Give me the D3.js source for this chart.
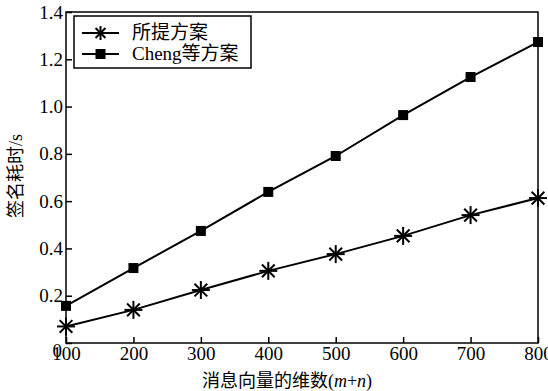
<!DOCTYPE html>
<html>
<head>
<meta charset="utf-8">
<script src="https://cdn.jsdelivr.net/npm/d3@7"></script>
<style>
  body { margin: 0; background: #fff; }
  text { font-family: "Liberation Serif", "Noto Sans CJK SC", serif; fill: #000; }
</style>
</head>
<body>
<div id="chart"></div>
<script>
// data
var dims = [100, 200, 300, 400, 500, 600, 700, 800];
var proposed = [0.07, 0.14, 0.224, 0.305, 0.376, 0.453, 0.541, 0.613];
var cheng = [0.157, 0.317, 0.474, 0.639, 0.791, 0.964, 1.125, 1.273];
var yTicks = [0, 0.2, 0.4, 0.6, 0.8, 1.0, 1.2, 1.4];
var seriesNames = ["所提方案", "Cheng等方案"];

// set the dimensions and margins of the graph
var margin = {top: 12, right: 10, bottom: 48, left: 66},
  width = 548 - margin.left - margin.right,
  height = 391 - margin.top - margin.bottom;

var x = d3.scaleLinear().domain([100, 800]).range([0, width]);
var y = d3.scaleLinear().domain([0, 1.4]).range([height, 0]);

var svg = d3.select("#chart").append("svg")
  .attr("width", 548)
  .attr("height", 391)
  .append("g")
  .attr("transform", "translate(" + margin.left + "," + margin.top + ")");

// frame
svg.append("rect")
  .attr("width", width).attr("height", height)
  .attr("fill", "none").attr("stroke", "#000").attr("stroke-width", 1.5);

// Y axis, ticks pointing inwards
var yAxis = svg.append("g")
  .call(d3.axisLeft(y).tickValues(yTicks).tickSizeInner(-6).tickSizeOuter(0)
    .tickPadding(4)
    .tickFormat(function(d) { return d === 0 ? "0" : d3.format(".1f")(d); }));
yAxis.select(".domain").remove();
yAxis.selectAll("line").attr("stroke-width", 1.5);
yAxis.selectAll("text").style("font-size", "19px").attr("x", -3);
yAxis.selectAll(".tick").filter(function(d) { return d === 0; })
  .select("text").attr("dy", "0.7em").attr("x", -4);

// X axis, ticks pointing inwards
var xAxis = svg.append("g")
  .attr("transform", "translate(0," + height + ")")
  .call(d3.axisBottom(x).tickValues(dims).tickSizeInner(-6).tickSizeOuter(0)
    .tickPadding(6));
xAxis.select(".domain").remove();
xAxis.selectAll("line").attr("stroke-width", 1.5);
xAxis.selectAll("text").style("font-size", "19px").attr("y", 3);

// lines
var line = d3.line()
  .x(function(d, i) { return x(dims[i]); })
  .y(function(d) { return y(d); });

svg.append("path").datum(cheng)
  .attr("d", line).attr("fill", "none").attr("stroke", "#000").attr("stroke-width", 2);
svg.append("path").datum(proposed)
  .attr("d", line).attr("fill", "none").attr("stroke", "#000").attr("stroke-width", 2);

// star marker: 8 spokes
function star(g, cx, cy, r) {
  var s = g.append("g").attr("transform", "translate(" + cx + "," + cy + ")");
  [0, 45, 90, 135].forEach(function(a) {
    var rad = a * Math.PI / 180;
    s.append("line")
      .attr("x1", -r * Math.cos(rad)).attr("y1", -r * Math.sin(rad))
      .attr("x2", r * Math.cos(rad)).attr("y2", r * Math.sin(rad))
      .attr("stroke", "#000").attr("stroke-width", 2);
  });
}

proposed.forEach(function(d, i) { star(svg, x(dims[i]), y(d), 9); });

svg.selectAll(".sq").data(cheng).enter().append("rect")
  .attr("class", "sq")
  .attr("x", function(d, i) { return x(dims[i]) - 5; })
  .attr("y", function(d) { return y(d) - 5; })
  .attr("width", 10).attr("height", 10)
  .attr("fill", "#000");

// legend
var legend = svg.append("g").attr("transform", "translate(8,4)");
legend.append("rect")
  .attr("width", 177).attr("height", 52)
  .attr("fill", "#fff").attr("stroke", "#000").attr("stroke-width", 1.5);
seriesNames.forEach(function(name, i) {
  var ly = 17 + i * 21;
  legend.append("line")
    .attr("x1", 8).attr("x2", 45).attr("y1", ly).attr("y2", ly)
    .attr("stroke", "#000").attr("stroke-width", 2);
  if (i === 0) star(legend, 26.5, ly, 7);
  else legend.append("rect").attr("x", 21.5).attr("y", ly - 5)
    .attr("width", 10).attr("height", 10).attr("fill", "#000");
  legend.append("text")
    .attr("x", 58).attr("y", ly + 6)
    .style("font-size", "19px")
    .text(name);
});

// X axis title
var xt = svg.append("text")
  .attr("x", width / 2 - 15)
  .attr("y", height + 44)
  .style("text-anchor", "middle")
  .style("font-size", "18px");
xt.append("tspan").text("消息向量的维数(");
xt.append("tspan").style("font-style", "italic").text("m");
xt.append("tspan").text("+");
xt.append("tspan").style("font-style", "italic").text("n");
xt.append("tspan").text(")");

// Y axis title
svg.append("text")
  .attr("transform", "translate(" + (-margin.left + 22) + "," + (176 - margin.top) + ") rotate(-90)")
  .style("text-anchor", "middle")
  .style("font-size", "18px")
  .text("签名耗时/s");
</script>
</body>
</html>
